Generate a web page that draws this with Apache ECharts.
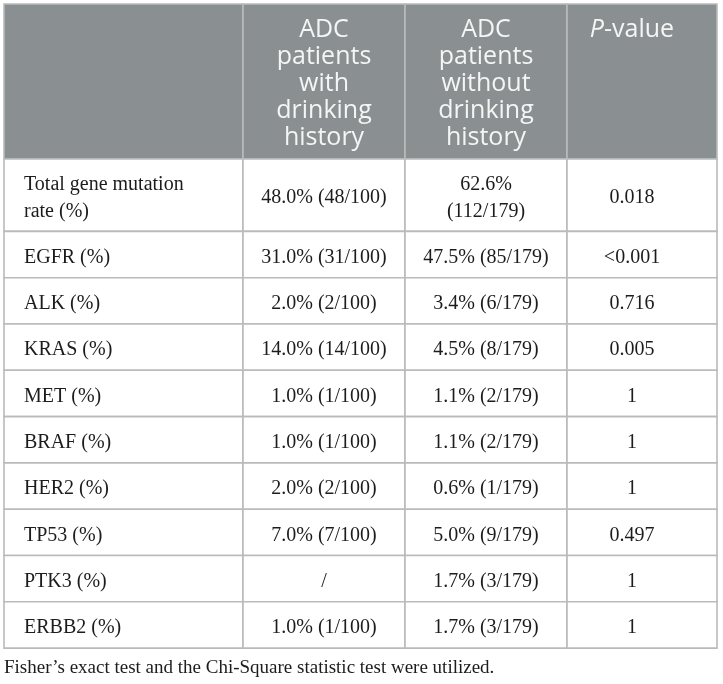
<!DOCTYPE html>
<html>
<head>
<meta charset="utf-8">
<script src="https://cdn.jsdelivr.net/npm/echarts@6/dist/echarts.min.js"></script>
<style>
html,body{margin:0;padding:0;background:#ffffff;}
#chart{width:723px;height:684px;}
</style>
</head>
<body>
<div id="chart"></div>
<script>
// ---- Data ----
const columnHeaders = ["", "ADC\npatients\nwith\ndrinking\nhistory", "ADC\npatients\nwithout\ndrinking\nhistory", "{i|P}-value"];
const genes = ["Total gene mutation\nrate (%)", "EGFR (%)", "ALK (%)", "KRAS (%)", "MET (%)", "BRAF (%)", "HER2 (%)", "TP53 (%)", "PTK3 (%)", "ERBB2 (%)"];
const withDrinking = ["48.0% (48/100)", "31.0% (31/100)", "2.0% (2/100)", "14.0% (14/100)", "1.0% (1/100)", "1.0% (1/100)", "2.0% (2/100)", "7.0% (7/100)", "/", "1.0% (1/100)"];
const withoutDrinking = ["62.6%\n(112/179)", "47.5% (85/179)", "3.4% (6/179)", "4.5% (8/179)", "1.1% (2/179)", "1.1% (2/179)", "0.6% (1/179)", "5.0% (9/179)", "1.7% (3/179)", "1.7% (3/179)"];
const pValues = ["0.018", "<0.001", "0.716", "0.005", "1", "1", "1", "0.497", "1", "1"];
const footnote = "Fisher\u2019s exact test and the Chi-Square statistic test were utilized.";

// ---- Layout (sizes / styles) ----
const colEdges = [0, 239, 401, 563, 713];
const colAnchor = [20, 81, 81, 65];           // text anchor offset inside column
const colAlign = ["left", "center", "center", "center"];
const headerHeight = 155;
const rowPad = 20.2, bodyLine = 26.1, headLine = 27, headPadTop = 12.5;
const headerFill = "#8a9091", gridColor = "#b9bbbb";
const bodyFont = "'Liberation Serif', 'Times New Roman', serif";
const headFont = "'Open Sans', 'Noto Sans', sans-serif";

const bodyColumns = [genes, withDrinking, withoutDrinking, pValues];
const rowEdges = [0, headerHeight];
genes.forEach((g, i) => {
  const lines = Math.max(...bodyColumns.map(c => c[i].split("\n").length));
  rowEdges.push(rowEdges[rowEdges.length - 1] + rowPad + lines * bodyLine);
});
const totalH = rowEdges[rowEdges.length - 1];

const cells = [];
for (let r = 0; r <= genes.length; r++) {
  for (let c = 0; c < 4; c++) cells.push([c, r]);
}

function renderItem(params, api) {
  const c = api.value(0), r = api.value(1);
  const p0 = api.coord([colEdges[c], rowEdges[r]]);
  const p1 = api.coord([colEdges[c + 1], rowEdges[r + 1]]);
  const isHead = r === 0;
  const text = isHead ? columnHeaders[c] : bodyColumns[c][r - 1];
  const anchor = api.coord([colEdges[c] + colAnchor[c], 0])[0];
  const children = [{
    type: "rect",
    shape: { x: p0[0], y: p0[1], width: p1[0] - p0[0], height: p1[1] - p0[1] },
    style: { fill: isHead ? headerFill : "#ffffff", stroke: gridColor, lineWidth: 1.6 }
  }];
  if (text) {
    children.push({
      type: "text",
      x: anchor,
      y: isHead ? p0[1] + headPadTop : (p0[1] + p1[1]) / 2 + 3,
      style: isHead ? {
        text: text,
        fill: "#f4f5f5",
        fontFamily: headFont,
        fontSize: 25,
        lineHeight: headLine,
        align: colAlign[c],
        verticalAlign: "top",
        rich: { i: { fontStyle: "italic", fontFamily: headFont, fontSize: 25, fill: "#f4f5f5", lineHeight: headLine } }
      } : {
        text: text,
        fill: "#1c1c1c",
        fontFamily: bodyFont,
        fontSize: 20,
        lineHeight: bodyLine,
        align: colAlign[c],
        verticalAlign: "middle"
      }
    });
  }
  return { type: "group", children: children };
}

const chart = echarts.init(document.getElementById("chart"), null, { renderer: "canvas" });
chart.setOption({
  animation: false,
  backgroundColor: "#ffffff",
  grid: { left: 4, top: 4, width: 713, height: totalH },
  xAxis: { type: "value", min: 0, max: 713, show: false },
  yAxis: { type: "value", min: 0, max: totalH, inverse: true, show: false },
  graphic: [{
    type: "text",
    left: 4,
    top: 659,
    style: { text: footnote, fill: "#1c1c1c", fontFamily: bodyFont, fontSize: 19 }
  }],
  series: [{
    type: "custom",
    coordinateSystem: "cartesian2d",
    renderItem: renderItem,
    data: cells,
    clip: false
  }]
});
</script>
</body>
</html>
